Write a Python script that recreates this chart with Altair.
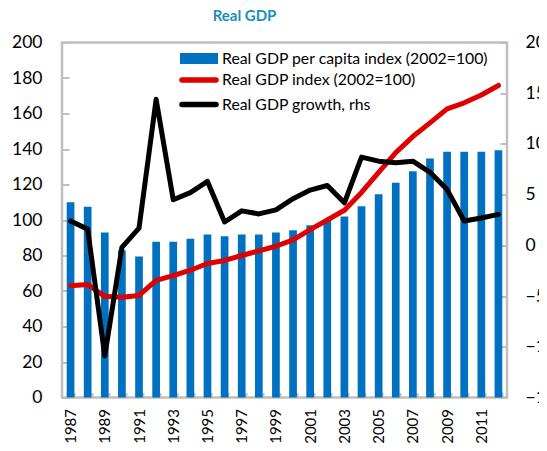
import altair as alt
import pandas as pd

years = list(range(1987, 2013))
per_capita_index = [110, 107.5, 93, 83, 79.5, 87.8, 87.8, 89.5, 91.8, 90.9, 91.8, 91.8,
                    92.9, 94.2, 97, 100, 102, 107.8, 114.5, 121, 127.5, 134.6, 138.4,
                    138.4, 138.4, 139.3]
gdp_index = [63, 63.7, 57, 56.5, 57.5, 66, 68.7, 71.7, 75.5, 77.2, 80, 82.6, 85.2, 88.8,
             94.6, 100, 105.5, 115.5, 126.8, 138, 147, 154.7, 162.6, 166, 170.4, 175.8]
growth = [2.4, 1.6, -10.9, -0.2, 1.7, 14.4, 4.5, 5.2, 6.3, 2.3, 3.4, 3.1, 3.5, 4.6, 5.45,
          5.9, 4.2, 8.7, 8.3, 8.15, 8.3, 7.2, 5.5, 2.4, 2.7, 3.05]

legend_labels = ["Real GDP per capita index (2002=100)",
                 "Real GDP index (2002=100)",
                 "Real GDP growth, rhs"]

BLUE = "#0070C0"
RED = "#E00000"
BLACK = "#000000"
GRAY = "#BFBFBF"

df = pd.DataFrame({"year": years, "pc": per_capita_index, "idx": gdp_index, "g": growth})

x_enc = alt.X("year:O",
              scale=alt.Scale(paddingInner=0.55, paddingOuter=0.275),
              axis=alt.Axis(title=None, labelAngle=270, labelFontSize=15,
                            labelExpr="datum.value % 2 == 1 ? datum.label : ''",
                            tickBand="extent", offset=-5, tickSize=5, tickColor=GRAY,
                            tickWidth=2, domain=False, labelPadding=11,
                            labelColor="black", labelOverlap=False))

left_axis = alt.Axis(title=None, values=list(range(0, 201, 20)), offset=-7, tickSize=7,
                     tickColor=GRAY, tickWidth=2, domain=False, grid=False,
                     labelFontSize=17.5, labelPadding=20, labelColor="black",
                     labelOverlap=False)
right_axis = alt.Axis(title=None, orient="right", values=list(range(-15, 21, 5)),
                      offset=-7, tickSize=7, tickColor=GRAY, tickWidth=2, domain=False,
                      grid=False, labelFontSize=17.5, labelPadding=18, labelColor="black",
                      labelOverlap=False)

left_scale = alt.Scale(domain=[0, 200], nice=False)

bars = alt.Chart(df).mark_bar(color=BLUE).encode(
    x=x_enc,
    y=alt.Y("pc:Q", scale=left_scale, axis=left_axis),
)
red = alt.Chart(df).mark_line(color=RED, strokeWidth=5, strokeJoin="round",
                              strokeCap="round").encode(
    x=x_enc, y=alt.Y("idx:Q", scale=left_scale, axis=left_axis))


def legend_entry(label, color, ypix, width, cap):
    d = pd.DataFrame({"t": [label]})
    sw = alt.Chart(d).mark_rule(color=color, strokeWidth=width, strokeCap=cap).encode(
        x=alt.value(118 if cap == "butt" else 120),
        x2=alt.value(156 if cap == "butt" else 154),
        y=alt.value(ypix))
    tx = alt.Chart(d).mark_text(align="left", baseline="middle", fontSize=15.8,
                                color="black").encode(
        x=alt.value(160), y=alt.value(ypix), text="t:N")
    return sw + tx


leg = (legend_entry(legend_labels[0], BLUE, 16, 11, "butt")
       + legend_entry(legend_labels[1], RED, 37.5, 5.5, "round")
       + legend_entry(legend_labels[2], BLACK, 62, 5.5, "round"))

left = alt.layer(bars, red, leg)

black = alt.Chart(df).mark_line(color=BLACK, strokeWidth=5, strokeJoin="round",
                                strokeCap="round").encode(
    x=x_enc,
    y=alt.Y("g:Q", scale=alt.Scale(domain=[-15, 20], nice=False), axis=right_axis),
)

chart = alt.layer(left, black).resolve_scale(y="independent").properties(
    width=445, height=355,
    title=alt.TitleParams("Real GDP", fontSize=15, fontWeight="bold", color="#1A8DBF",
                          anchor="middle", dx=-40, offset=10),
    autosize=alt.AutoSizeParams(type="none"),
    padding={"left": 54, "top": 34.5, "right": 32, "bottom": 45},
).configure(font="Lato").configure_view(stroke=GRAY, strokeWidth=2.5)

chart.save("out.html", embed_options={"renderer": "svg", "actions": False})
